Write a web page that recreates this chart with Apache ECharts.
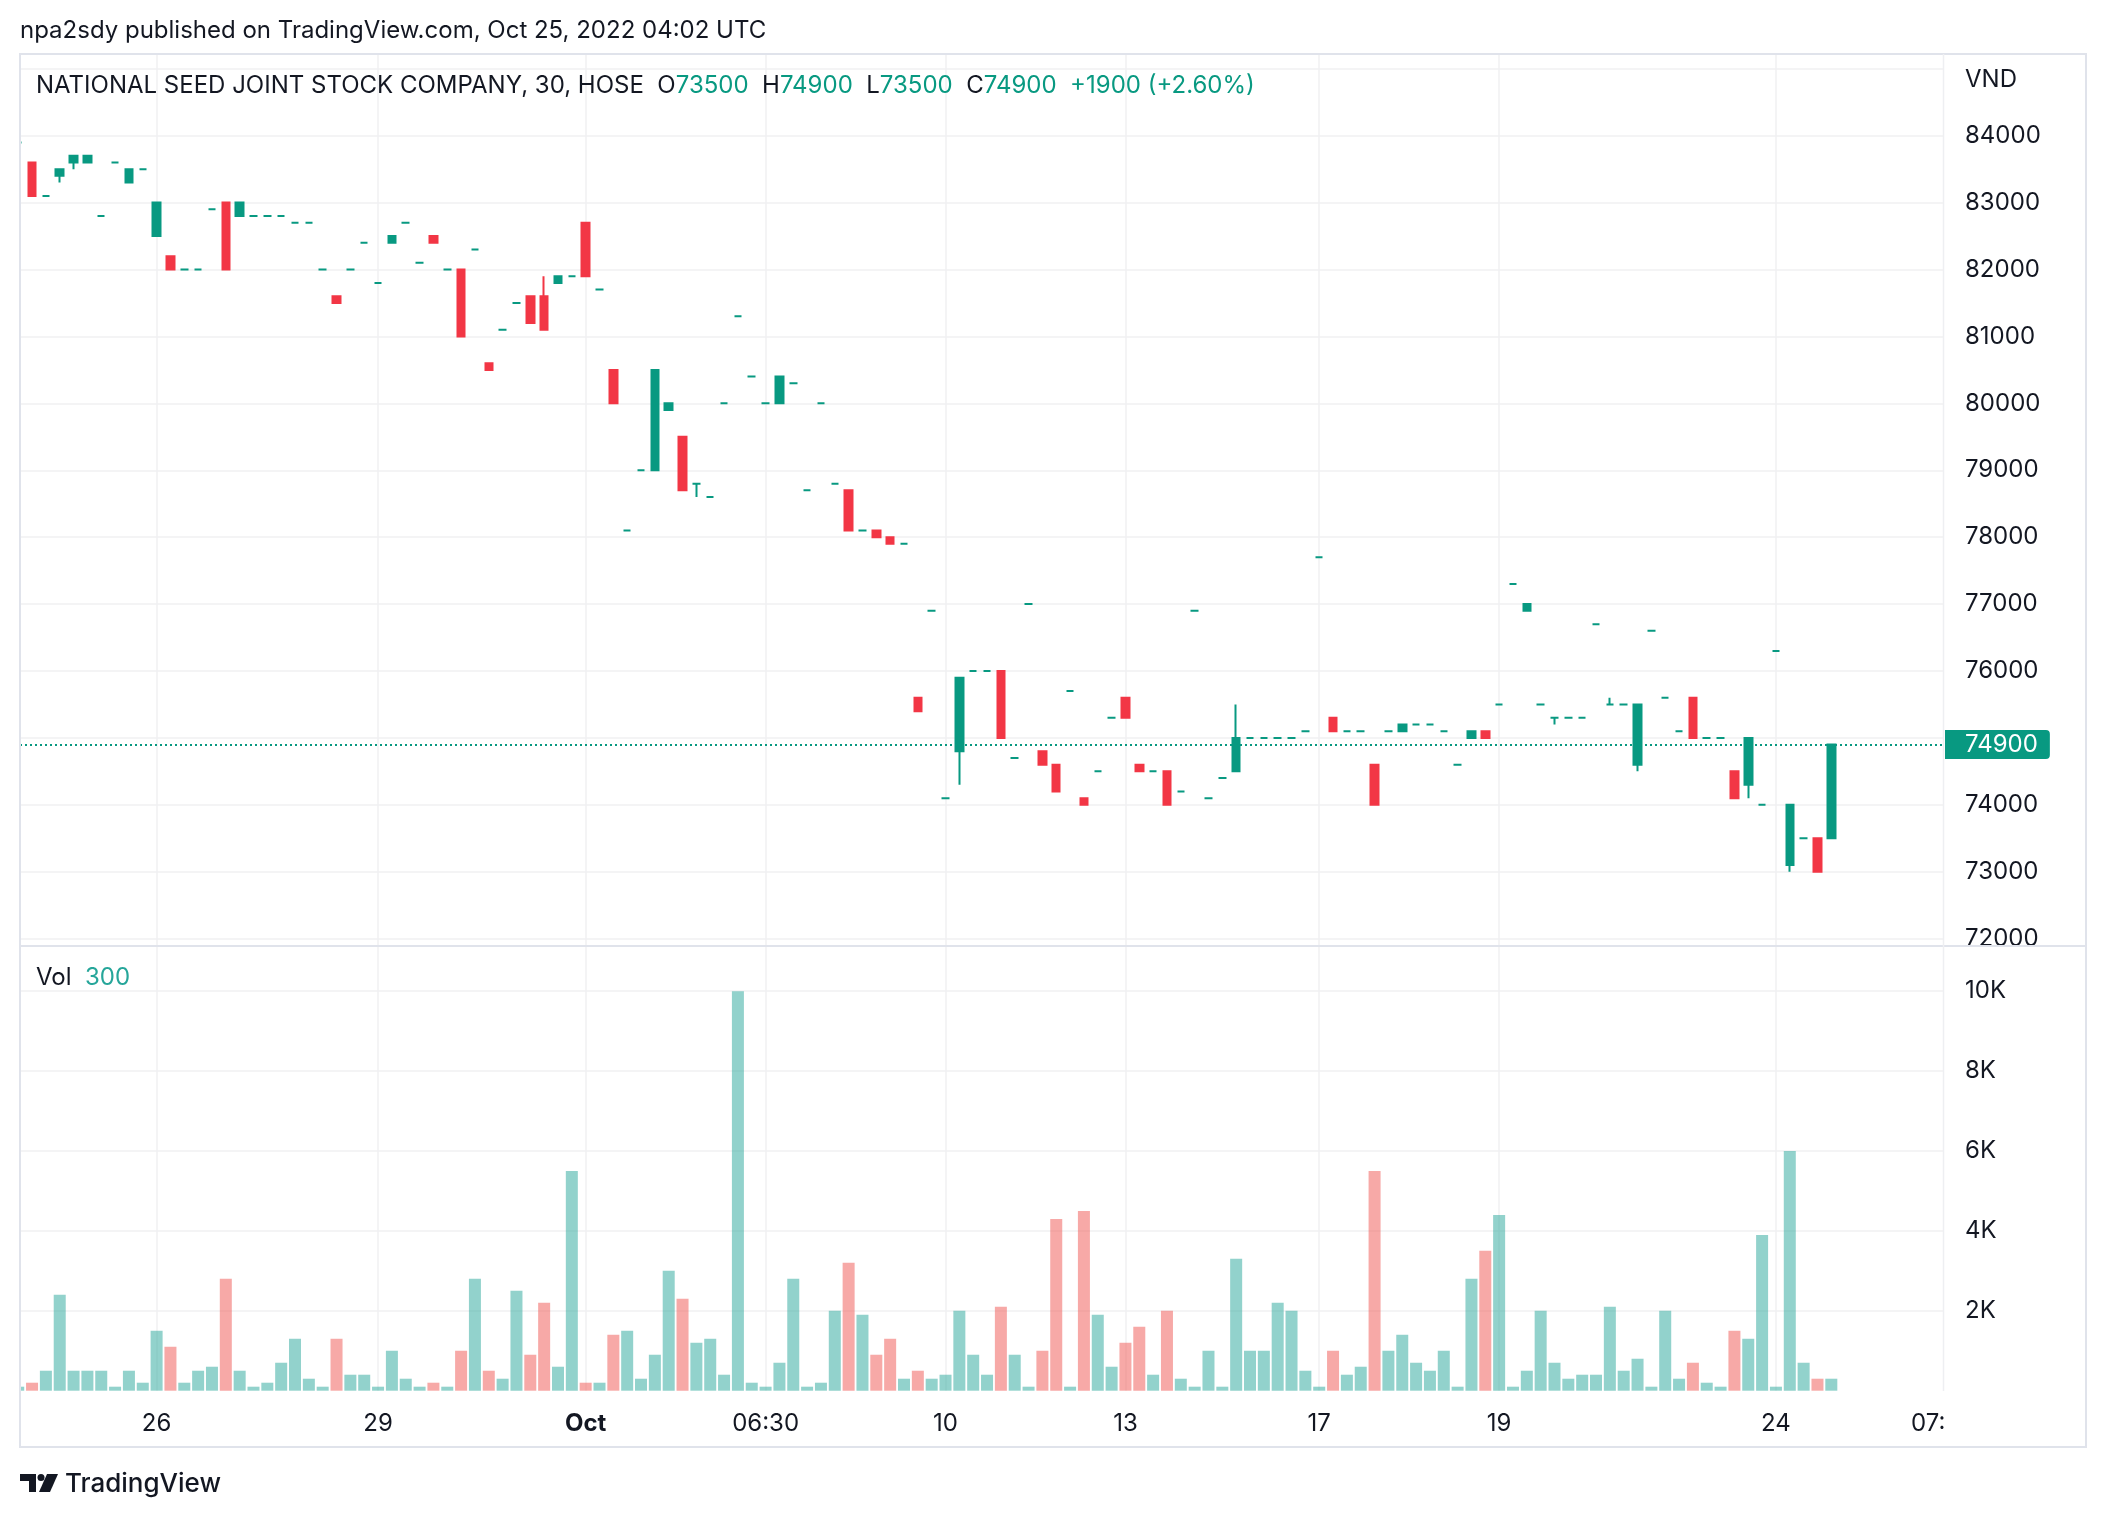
<!DOCTYPE html>
<html><head><meta charset="utf-8">
<script src="https://cdn.jsdelivr.net/npm/echarts@6/dist/echarts.min.js"></script>
<style>html,body{margin:0;padding:0;background:#fff}#c{width:2106px;height:1518px}</style>
</head><body><div id="c"></div><script>
// ---- data (30-minute bars) ----
const opens = [83900,83600,83100,83400,83600,83600,82800,83600,83300,83500,
82500,82200,82000,82000,82900,83000,82800,82800,82800,82800,
82700,82700,82000,81600,82000,82400,81800,82400,82700,82100,
82500,82000,82000,82300,80600,81100,81500,81600,81600,81800,
81900,82700,81700,80500,78100,79000,79000,79900,79500,78800,
78600,80000,81300,80400,80000,80000,80300,78700,80000,78800,
78700,78100,78100,78000,77900,75600,76900,74100,74800,76000,
76000,76000,74700,77000,74800,74600,75700,74100,74500,75300,
75600,74600,74500,74500,74200,76900,74100,74400,74500,75000,
75000,75000,75000,75100,77700,75300,75100,75100,74600,75100,
75100,75200,75200,75100,74600,75000,75100,75500,77300,76900,
75500,75300,75300,75300,76700,75500,75500,74600,76600,75600,
75100,75600,75000,75000,74500,74300,74000,76300,73100,73500,
73500,73500];
const closes = [83900,83100,83100,83500,83700,83700,82800,83600,83500,83500,
83000,82000,82000,82000,82900,82000,83000,82800,82800,82800,
82700,82700,82000,81500,82000,82400,81800,82500,82700,82100,
82400,82000,81000,82300,80500,81100,81500,81200,81100,81900,
81900,81900,81700,80000,78100,79000,80500,80000,78700,78800,
78600,80000,81300,80400,80000,80400,80300,78700,80000,78800,
78100,78100,78000,77900,77900,75400,76900,74100,75900,76000,
76000,75000,74700,77000,74600,74200,75700,74000,74500,75300,
75300,74500,74500,74000,74200,76900,74100,74400,75000,75000,
75000,75000,75000,75100,77700,75100,75100,75100,74000,75100,
75200,75200,75200,75100,74600,75100,75000,75500,77300,77000,
75500,75300,75300,75300,76700,75500,75500,75500,76600,75600,
75100,75000,75000,75000,74100,75000,74000,76300,74000,73500,
73000,74900];
const lows = [83900,83100,83100,83300,83500,83600,82800,83600,83300,83500,
82500,82000,82000,82000,82900,82000,82800,82800,82800,82800,
82700,82700,82000,81500,82000,82400,81800,82400,82700,82100,
82400,82000,81000,82300,80500,81100,81500,81200,81100,81800,
81900,81900,81700,80000,78100,79000,79000,79900,78700,78600,
78600,80000,81300,80400,80000,80000,80300,78700,80000,78800,
78100,78100,78000,77900,77900,75400,76900,74100,74300,76000,
76000,75000,74700,77000,74600,74200,75700,74000,74500,75300,
75300,74500,74500,74000,74200,76900,74100,74400,74500,75000,
75000,75000,75000,75100,77700,75100,75100,75100,74000,75100,
75100,75200,75200,75100,74600,75000,75000,75500,77300,76900,
75500,75200,75300,75300,76700,75500,75500,74500,76600,75600,
75100,75000,75000,75000,74100,74100,74000,76300,73000,73500,
73000,73500];
const highs = [83900,83600,83100,83500,83700,83700,82800,83600,83500,83500,
83000,82200,82000,82000,82900,83000,83000,82800,82800,82800,
82700,82700,82000,81600,82000,82400,81800,82500,82700,82100,
82500,82000,82000,82300,80600,81100,81500,81600,81900,81900,
81900,82700,81700,80500,78100,79000,80500,80000,79500,78800,
78600,80000,81300,80400,80000,80400,80300,78700,80000,78800,
78700,78100,78100,78000,77900,75600,76900,74100,75900,76000,
76000,76000,74700,77000,74800,74600,75700,74100,74500,75300,
75600,74600,74500,74500,74200,76900,74100,74400,75500,75000,
75000,75000,75000,75100,77700,75300,75100,75100,74600,75100,
75200,75200,75200,75100,74600,75100,75100,75500,77300,77000,
75500,75300,75300,75300,76700,75600,75500,75500,76600,75600,
75100,75600,75000,75000,74500,75000,74000,76300,74000,73500,
73500,74900];
const volumes = [100,200,500,2400,500,500,500,100,500,200,
1500,1100,200,500,600,2800,500,100,200,700,
1300,300,100,1300,400,400,100,1000,300,100,
200,100,1000,2800,500,300,2500,900,2200,600,
5500,200,200,1400,1500,300,900,3000,2300,1200,
1300,400,10000,200,100,700,2800,100,200,2000,
3200,1900,900,1300,300,500,300,400,2000,900,
400,2100,900,100,1000,4300,100,4500,1900,600,
1200,1600,400,2000,300,100,1000,100,3300,1000,
1000,2200,2000,500,100,1000,400,600,5500,1000,
1400,700,500,1000,100,2800,3500,4400,100,500,
2000,700,300,400,400,2100,500,800,100,2000,
300,700,200,100,1500,1300,3900,100,6000,700,
300,300];
const tickIdx  = [10, 26, 41, 54, 67, 80, 94, 107, 127, 138];
const tickText = ['26','29','Oct','06:30','10','13','17','19','24','07:'];
const priceTicks = [72000,73000,74000,75000,76000,77000,78000,79000,80000,81000,82000,83000,84000,85000];
const priceLabels = [72000,73000,74000,76000,77000,78000,79000,80000,81000,82000,83000,84000];
const volTicks = [2000,4000,6000,8000,10000];

// ---- styling ----
const UP = '#089981', DOWN = '#f23645';
const VUP = 'rgba(38,166,154,0.5)', VDOWN = 'rgba(239,83,80,0.5)';
const GRID = '#f0f0f2', FRAME = '#e0e3eb', TXT = '#131722';
const FONT = 'Inter, "Noto Sans", sans-serif';

const barIdx = opens.map((_, i) => i);
const candleData = barIdx.map(i => {
  const col = closes[i] < opens[i] ? DOWN : UP;
  return { value: [i, opens[i], closes[i], lows[i], highs[i]],
    itemStyle: { color: col, color0: col, borderColor: col, borderColor0: col, borderColorDoji: col } };
});
const volData = barIdx.map(i => ({ value: [i, volumes[i]],
  itemStyle: { color: closes[i] < opens[i] ? VDOWN : VUP } }));

const last = closes.length - 1;
const X_MIN = 0.13, X_MAX = 139.07;
const gridIdx = tickIdx.slice(0, 9);

const xBase = (gi, showLabels) => ({
  gridIndex: gi, type: 'value', min: X_MIN, max: X_MAX,
  axisLine: { show: false },
  axisTick: { show: false, customValues: gridIdx },
  splitLine: { show: true, lineStyle: { color: GRID, width: 1.5 } },
  axisLabel: showLabels ? {
    show: true, customValues: tickIdx, margin: 21, fontSize: 24, color: TXT, fontFamily: FONT,
    formatter: v => { const k = tickIdx.indexOf(Math.round(v)); const t = k >= 0 ? tickText[k] : '';
      return t === 'Oct' ? '{b|Oct}' : t; },
    rich: { b: { fontWeight: 'bold', fontSize: 24, color: TXT, fontFamily: FONT } }
  } : { show: false }
});

const option = {
  animation: false,
  backgroundColor: '#ffffff',
  grid: [
    { left: 20, top: 54, width: 1923, height: 891 },
    { left: 20, top: 946, width: 1923, height: 444.7 }
  ],
  xAxis: [xBase(0, false), xBase(1, true)],
  yAxis: [
    { gridIndex: 0, type: 'value', position: 'right', min: 71905, max: 85221,
      axisLine: { show: false }, axisTick: { show: false, customValues: priceTicks },
      splitLine: { show: true, lineStyle: { color: GRID, width: 1.5 } },
      axisLabel: { customValues: priceLabels, margin: 22, fontSize: 24, color: TXT, fontFamily: FONT,
        formatter: v => String(Math.round(v)) } },
    { gridIndex: 1, type: 'value', position: 'right', min: 0, max: 11131,
      axisLine: { show: false }, axisTick: { show: false, customValues: volTicks },
      splitLine: { show: true, lineStyle: { color: GRID, width: 1.5 } },
      axisLabel: { customValues: volTicks, margin: 22, fontSize: 24, color: TXT, fontFamily: FONT,
        formatter: v => Math.round(v / 1000) + 'K' } }
  ],
  series: [
    { type: 'candlestick', xAxisIndex: 0, yAxisIndex: 0, data: candleData,
      barWidth: 8, clip: true, z: 5,
      itemStyle: { borderWidth: 2 },
      markLine: { symbol: ['none', 'none'], silent: true, animation: false, z: 3,
        data: [{ yAxis: closes[last] }],
        lineStyle: { color: UP, type: [2, 3], width: 2 },
        label: { show: true, position: 'end', distance: 2, formatter: String(closes[last]),
          backgroundColor: UP, color: '#fff', fontSize: 24, fontFamily: FONT,
          padding: [3, 12, 2, 20], borderRadius: [0, 4, 4, 0] } } },
    { type: 'bar', xAxisIndex: 1, yAxisIndex: 1, data: volData, barWidth: 12, z: 2, clip: true,
      markLine: { symbol: ['none', 'none'], silent: true, animation: false,
        data: [{ yAxis: volumes[last] }],
        lineStyle: { opacity: 0 },
        label: { show: true, position: 'end', distance: 2, offset: [0, -4], formatter: String(volumes[last]),
          backgroundColor: '#26a69a', color: '#fff', fontSize: 24, fontFamily: FONT,
          padding: [3, 16, 2, 20], borderRadius: [0, 4, 4, 0] } } }
  ],
  graphic: [
    { type: 'rect', z: 50, shape: { x: 0, y: 50, width: 20, height: 1400 }, style: { fill: '#fff' } },
    { type: 'rect', z: 50, shape: { x: 1944, y: 947, width: 141, height: 16 }, style: { fill: '#fff' } },
    { type: 'rect', z: 60, shape: { x: 20, y: 54, width: 2066, height: 1393 }, style: { fill: 'none', stroke: FRAME, lineWidth: 2 } },
    { type: 'line', z: 60, shape: { x1: 20, y1: 946, x2: 2086, y2: 946 }, style: { stroke: FRAME, lineWidth: 2 } },
    { type: 'line', z: 60, shape: { x1: 1943.5, y1: 54, x2: 1943.5, y2: 1391 }, style: { stroke: '#eeeff2', lineWidth: 1.5 } },
    { type: 'text', z: 60, x: 20, y: 31, style: { text: 'npa2sdy published on TradingView.com, Oct 25, 2022 04:02 UTC',
        fontSize: 24, fontFamily: FONT, fill: TXT, verticalAlign: 'middle', textVerticalAlign: 'middle' } },
    { type: 'text', z: 60, x: 36, y: 86, style: {
        text: '{d|NATIONAL SEED JOINT STOCK COMPANY, 30, HOSE  O}{g|' + opens[last] + '}{d|  H}{g|' + highs[last] +
              '}{d|  L}{g|' + lows[last] + '}{d|  C}{g|' + closes[last] + '}{g|  +1900 (+2.60%)}',
        rich: { d: { fontSize: 24, fontFamily: FONT, fill: TXT, color: TXT }, g: { fontSize: 24, fontFamily: FONT, fill: UP, color: UP } },
        fontSize: 24, fontFamily: FONT, verticalAlign: 'middle', textVerticalAlign: 'middle' } },
    { type: 'text', z: 60, x: 1965, y: 80, style: { text: 'VND', fontSize: 24, fontFamily: FONT, fill: TXT, verticalAlign: 'middle', textVerticalAlign: 'middle' } },
    { type: 'text', z: 60, x: 36, y: 978, style: {
        text: '{d|Vol  }{g|' + volumes[last] + '}',
        rich: { d: { fontSize: 24, fontFamily: FONT, fill: TXT, color: TXT }, g: { fontSize: 24, fontFamily: FONT, fill: '#26a69a', color: '#26a69a' } },
        fontSize: 24, fontFamily: FONT, verticalAlign: 'middle', textVerticalAlign: 'middle' } },
    { type: 'polygon', z: 60, shape: { points: [[20,1474],[36,1474],[36,1492],[29,1492],[29,1481],[20,1481]] }, style: { fill: TXT } },
    { type: 'circle', z: 60, shape: { cx: 41, cy: 1477.5, r: 3.5 }, style: { fill: TXT } },
    { type: 'polygon', z: 60, shape: { points: [[47,1474],[58,1474],[50,1492],[39,1492]] }, style: { fill: TXT } },
    { type: 'text', z: 60, x: 65, y: 1484, style: { text: 'TradingView', fontSize: 26, fontFamily: FONT, fontWeight: 500, fill: TXT, verticalAlign: 'middle', textVerticalAlign: 'middle' } }
  ]
};
const chart = echarts.init(document.getElementById('c'), null, { renderer: 'canvas' });
chart.setOption(option);
</script></body></html>
